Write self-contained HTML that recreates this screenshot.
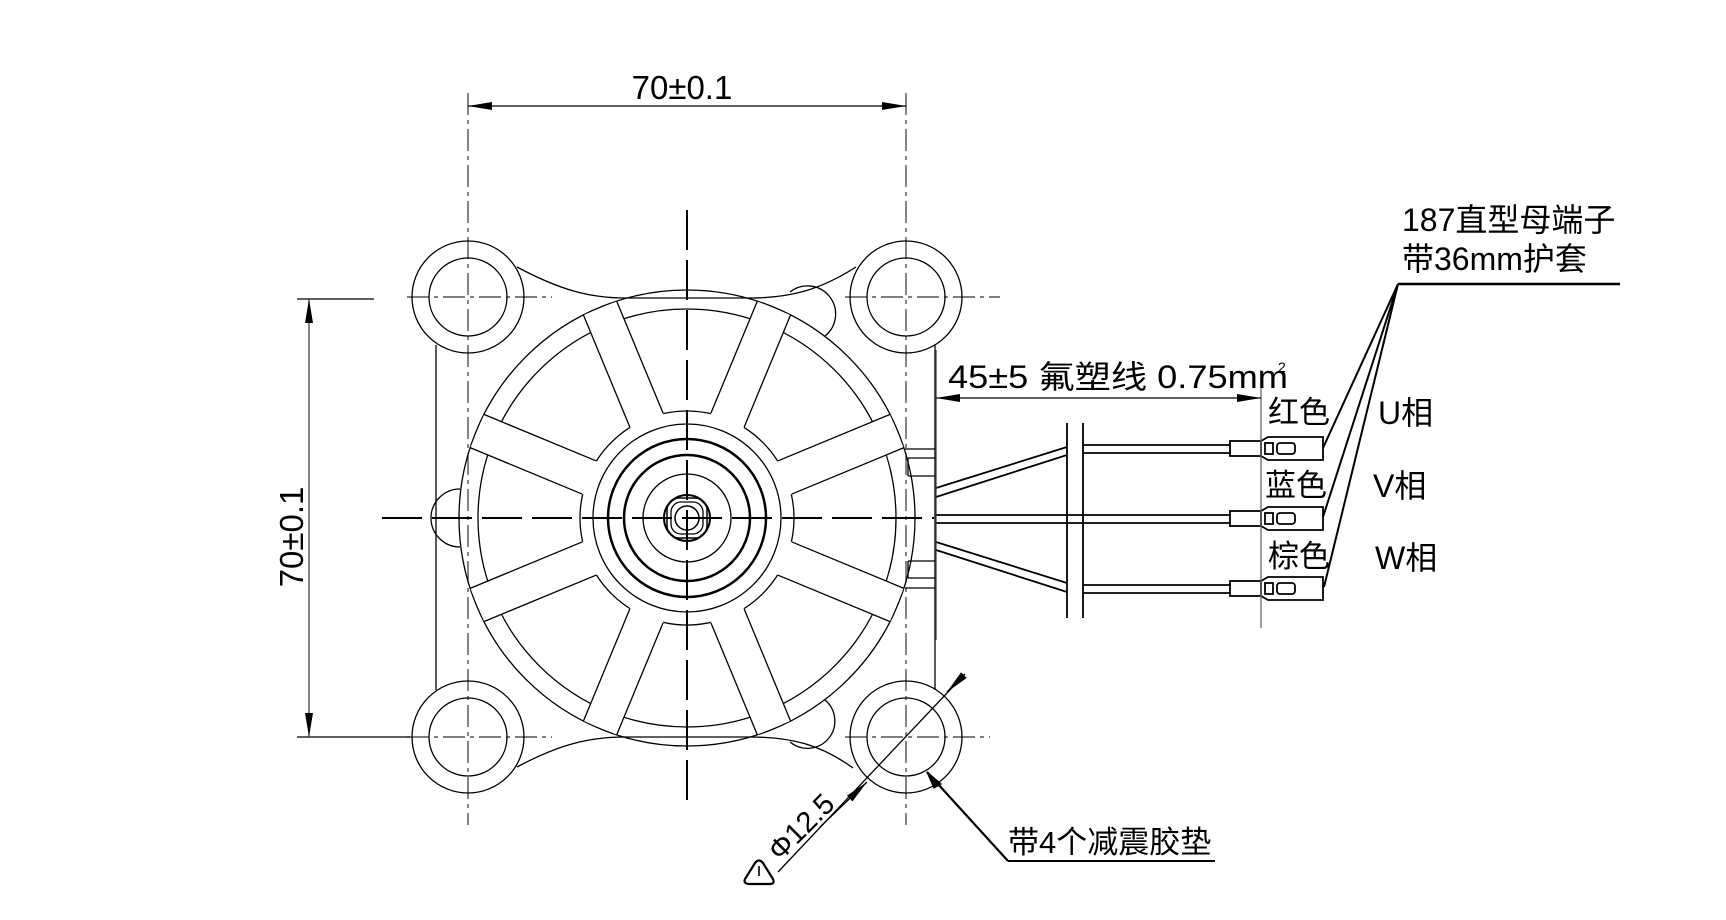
<!DOCTYPE html>
<html><head><meta charset="utf-8"><style>
html,body{margin:0;padding:0;background:#fff;}
svg{display:block;}
text{font-family:"Liberation Sans","Noto Sans CJK SC",sans-serif;fill:#000;}
</style></head><body>
<svg width="1726" height="920" viewBox="0 0 1726 920" xmlns="http://www.w3.org/2000/svg">
<defs>
<marker id="ar" viewBox="0 0 24 10" refX="24" refY="5" markerWidth="24" markerHeight="10" markerUnits="userSpaceOnUse" orient="auto-start-reverse"><path d="M0,1 L24,5 L0,9 Z" fill="#000"/></marker>
<g id="spk"><polygon points="-18,-105 18,-105 18,-227 -18,-227" fill="#fff" stroke="none"/><line x1="-18" y1="-106" x2="-18" y2="-227"/><line x1="18" y1="-106" x2="18" y2="-227"/></g>
</defs>
<g fill="none" stroke="#000" stroke-width="1.3">
<g stroke="#333" stroke-dasharray="22 5 4 5" stroke-width="1.2">
<line x1="468" y1="93" x2="468" y2="825"/>
<line x1="906" y1="93" x2="906" y2="825"/>
<line x1="407" y1="297" x2="552" y2="297"/>
<line x1="845" y1="297" x2="1000" y2="297"/>
<line x1="407" y1="737" x2="552" y2="737"/>
<line x1="845" y1="737" x2="990" y2="737"/>
</g>
<line x1="468" y1="106" x2="906" y2="106" marker-start="url(#ar)" marker-end="url(#ar)"/>
<line x1="297" y1="299" x2="374" y2="299"/>
<line x1="297" y1="737" x2="410" y2="737"/>
<line x1="309" y1="299" x2="309" y2="737" stroke="#444" marker-start="url(#ar)" marker-end="url(#ar)"/>
<circle cx="468" cy="297" r="56"/><circle cx="468" cy="297" r="39"/>
<circle cx="906" cy="297" r="56"/><circle cx="906" cy="297" r="39"/>
<circle cx="468" cy="737" r="56"/><circle cx="468" cy="737" r="39"/>
<circle cx="906" cy="737" r="56"/><circle cx="906" cy="737" r="39"/>
<path d="M517,267 C560,290 590,298 625,298 L750,298 C790,298 820,290 856,267"/>
<path d="M517,767 C560,744 590,737 625,737 L750,737 C790,737 820,744 853,768"/>
<line x1="436" y1="345" x2="436" y2="690"/>
<line x1="935" y1="345" x2="935" y2="690"/>
<path d="M460,489 A29,29 0 0 0 460,547"/>
<path d="M790,292 A24,24 0 0 1 825,336"/>
<path d="M790,742 A24,24 0 0 0 825,700"/>
<path d="M905,449 L935,449 M908,458 L935,458 M908,476 L935,476 M908,458 L908,476"/>
<path d="M905,588 L935,588 M908,578 L935,578 M908,561 L935,561 M908,561 L908,578"/>
<circle cx="687" cy="518" r="228"/>
<circle cx="687" cy="518" r="209"/>
<circle cx="687" cy="518" r="107"/>
<use href="#spk" transform="translate(687,518) rotate(22.5)"/>
<use href="#spk" transform="translate(687,518) rotate(67.5)"/>
<use href="#spk" transform="translate(687,518) rotate(112.5)"/>
<use href="#spk" transform="translate(687,518) rotate(157.5)"/>
<use href="#spk" transform="translate(687,518) rotate(202.5)"/>
<use href="#spk" transform="translate(687,518) rotate(247.5)"/>
<use href="#spk" transform="translate(687,518) rotate(292.5)"/>
<use href="#spk" transform="translate(687,518) rotate(337.5)"/>
<circle cx="687" cy="518" r="94"/>
<circle cx="687" cy="518" r="79" stroke-width="2.5"/>
<circle cx="687" cy="518" r="63" stroke-width="2.5"/>
<circle cx="687" cy="518" r="44"/>
<circle cx="687" cy="518" r="23" stroke-width="2"/>
<rect x="667" y="498" width="40" height="40" rx="12" stroke-width="1.5"/>
<rect x="671" y="502" width="32" height="32" rx="10"/>
<circle cx="687" cy="518" r="12" stroke-width="1.5"/>
<g stroke-width="2" stroke-dasharray="40 10">
<line x1="687" y1="210" x2="687" y2="805"/>
<line x1="382" y1="518" x2="934" y2="518"/>
</g>
<g stroke-width="1.8">
<line x1="1067" y1="423" x2="1067" y2="618"/>
<line x1="1083" y1="423" x2="1083" y2="618"/>
<line x1="936" y1="488" x2="1067" y2="447"/><line x1="936" y1="497" x2="1067" y2="455"/>
<line x1="936" y1="542" x2="1067" y2="583"/><line x1="936" y1="550" x2="1067" y2="592"/>
<line x1="936" y1="515" x2="1230" y2="515"/><line x1="936" y1="523" x2="1230" y2="523"/>
<line x1="1083" y1="445" x2="1230" y2="445"/><line x1="1083" y1="453" x2="1230" y2="453"/>
<line x1="1083" y1="585" x2="1230" y2="585"/><line x1="1083" y1="593" x2="1230" y2="593"/>
</g>
<g stroke-width="1.8">
<g><rect x="1230" y="441" width="31" height="15"/><path d="M1261,441 L1268,437 L1323,437 L1323,460 L1268,460 L1261,456"/><rect x="1265" y="443" width="8" height="11"/><rect x="1277" y="443" width="18" height="11" rx="3"/></g>
<g transform="translate(0,70)"><rect x="1230" y="441" width="31" height="15"/><path d="M1261,441 L1268,437 L1323,437 L1323,460 L1268,460 L1261,456"/><rect x="1265" y="443" width="8" height="11"/><rect x="1277" y="443" width="18" height="11" rx="3"/></g>
<g transform="translate(0,140)"><rect x="1230" y="441" width="31" height="15"/><path d="M1261,441 L1268,437 L1323,437 L1323,460 L1268,460 L1261,456"/><rect x="1265" y="443" width="8" height="11"/><rect x="1277" y="443" width="18" height="11" rx="3"/></g>
</g>
<line x1="936" y1="350" x2="936" y2="640" stroke="#444"/>
<line x1="1261" y1="370" x2="1261" y2="628" stroke="#666"/>
<line x1="936" y1="398" x2="1261" y2="398" marker-start="url(#ar)" marker-end="url(#ar)"/>
<line x1="1398" y1="284" x2="1620" y2="284" stroke-width="2.5"/>
<line x1="1398" y1="284" x2="1323" y2="448" stroke-width="2"/>
<line x1="1398" y1="284" x2="1323" y2="517" stroke-width="2"/>
<line x1="1398" y1="284" x2="1324" y2="587" stroke-width="2"/>
<line x1="965" y1="674" x2="778" y2="872"/>
<line x1="965" y1="674" x2="947" y2="692" marker-end="url(#ar)"/>
<line x1="820" y1="827" x2="867" y2="782" marker-end="url(#ar)"/>
<path d="M750,884 L770,884 Q775,884 773,879 L763,863 Q759,858 755,863 L745,879 Q743,884 750,884 Z" stroke-width="2.2"/>
<line x1="759" y1="866" x2="759" y2="876" stroke-width="1.6"/>
<line x1="927" y1="772" x2="1008" y2="861" stroke-width="2.2"/>
<line x1="1008" y1="861" x2="1215" y2="861" stroke-width="2"/>
<path d="M927,772 L934,788 L941,784 Z" fill="#000"/>
</g>
<text x="682" y="99" font-size="33" text-anchor="middle">70±0.1</text>
<text transform="translate(303,537) rotate(-90)" font-size="33" text-anchor="middle">70±0.1</text>
<text x="948" y="388" font-size="32" textLength="340" lengthAdjust="spacingAndGlyphs">45±5 氟塑线 0.75mm</text>
<text x="1278" y="372" font-size="14">2</text>
<text x="1268" y="423" font-size="31">红色</text>
<text x="1265" y="496" font-size="31">蓝色</text>
<text x="1268" y="567" font-size="31">棕色</text>
<text x="1378" y="424" font-size="32">U相</text>
<text x="1373" y="497" font-size="32">V相</text>
<text x="1375" y="569" font-size="32">W相</text>
<text x="1402" y="231" font-size="32">187直型母端子</text>
<text x="1402" y="270" font-size="32">带36mm护套</text>
<text x="1008" y="853" font-size="31">带4个减震胶垫</text>
<text transform="translate(780,862) rotate(-45)" font-size="29">Φ12.5</text>
</svg>
</body></html>
